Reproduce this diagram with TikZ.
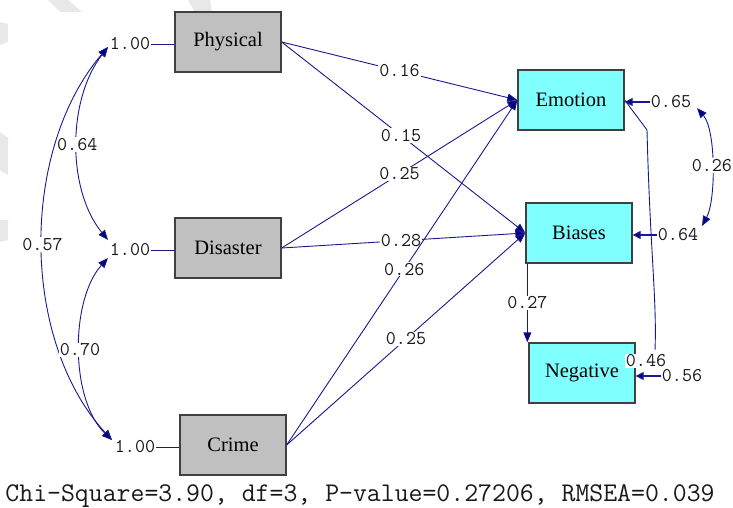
\documentclass[tikz,border=0pt]{standalone}
\usepackage{fontspec}
\setmainfont{Liberation Serif}
\usetikzlibrary{arrows.meta}
\definecolor{lnavy}{RGB}{25,25,140}
\definecolor{tipnavy}{RGB}{0,0,128}
\definecolor{boxgray}{RGB}{192,192,192}
\definecolor{boxcyan}{RGB}{128,255,255}
\definecolor{wm}{RGB}{232,232,232}
\begin{document}
\begin{tikzpicture}[x=1pt,y=-1pt,
  obs/.style={draw=black!75, line width=1.3pt, minimum width=106pt, minimum height=60pt, inner sep=0pt, font=\fontsize{20.5}{20.5}\selectfont},
  exo/.style={obs, fill=boxgray},
  endo/.style={obs, fill=boxcyan},
  num/.style={font=\ttfamily\fontsize{19.5}{19.5}\selectfont, inner sep=1pt, text=black!90},
  lbl/.style={num, fill=white},
  plain/.style={draw=lnavy, line width=0.9pt},
  conn/.style={plain, -{Triangle[length=10pt,width=8pt,fill=tipnavy]}},
  cov/.style={plain, {Triangle[length=10pt,width=8pt,fill=tipnavy]}-{Triangle[length=10pt,width=8pt,fill=tipnavy]}},
  err/.style={plain, line width=1.3pt, -{Triangle[length=8pt,width=8pt,fill=tipnavy]}}
]
\useasboundingbox (0,0) rectangle (733,508);
% faint watermark pieces
\fill[wm] (48,0) -- (68,0) -- (82,12) -- (60,12) -- cycle;
\fill[wm] (188,0) -- (210,0) -- (212,12) -- (195,12) -- cycle;
\fill[wm] (0,22) -- (8,24) -- (8,42) -- (0,45) -- cycle;
\fill[wm] (0,132) -- (8,138) -- (8,175) -- (0,170) -- cycle;
\fill[wm] (0,220) -- (8,220) -- (8,240) -- (0,242) -- cycle;

% observed variables
\node[exo] (phy) at (228,42) {Physical};
\node[exo] (dis) at (228,248) {Disaster};
\node[exo] (cri) at (233,445) {Crime};
\node[endo] (emo) at (571,100) {Emotion};
\node[endo] (bia) at (579,233) {Biases};
\node[endo] (neg) at (582,373) {Negative};

% variances of exogenous variables
\node[num] (vp) at (130,44) {1.00};
\node[num] (vd) at (130,250) {1.00};
\node[num] (vc) at (135,447) {1.00};
\draw[plain] (vp.east) -- (vp.east -| phy.west);
\draw[plain] (vd.east) -- (vd.east -| dis.west);
\draw[plain] (vc.east) -- (vc.east -| cri.west);
\coordinate (pA) at (108,47);
\coordinate (dA) at (108,240);
\coordinate (dB) at (108,258);
\coordinate (cA) at (112,440);

% covariances among exogenous variables
\draw[cov] (pA) .. controls (67,100) and (67,190) .. (dA) node[lbl, pos=0.5] {0.64};
\draw[cov] (pA) .. controls (20,150) and (20,340) .. (cA) node[lbl, pos=0.5] {0.57};
\draw[cov] (dB) .. controls (70,300) and (70,400) .. (cA) node[lbl, pos=0.5] {0.70};

% structural paths
\draw[conn] (phy.east) -- (emo.west) node[lbl, pos=0.5] {0.16};
\draw[conn] (phy.east) -- (bia.west) node[lbl, pos=0.49] {0.15};
\draw[conn] (dis.east) -- (emo.west) node[lbl, pos=0.5] {0.25};
\draw[conn] (dis.east) -- (bia.west) node[lbl, pos=0.49] {0.28};
\draw[conn] (cri.east) -- (emo.west) node[lbl, pos=0.51] {0.26};
\draw[conn] (cri.east) -- (bia.west) node[lbl, pos=0.5] {0.25};
\draw[conn] ([xshift=2pt]bia.south west) -- ([xshift=-1pt]neg.north west) node[lbl, pos=0.5] {0.27};

% error variances
\node[num] (e1) at (671,102) {0.65};
\node[num] (e2) at (678,235) {0.64};
\node[num] (e3) at (682,376) {0.56};
\draw[err] (e1.west) -- (e1.west -| emo.east);
\draw[err] (e2.west) -- (e2.west -| bia.east);
\draw[err] (e3.west) -- (e3.west -| neg.east);

% error covariances
\coordinate (c1) at (697,108);
\coordinate (c2) at (702,226);
\draw[cov] (c1) .. controls (716,130) and (716,200) .. (c2) node[lbl, pos=0.5] {0.26};
\coordinate (k1) at (647,130);
\coordinate (k2) at (655,350);
\draw[plain] (emo.east) -- (k1) .. controls (650,250) and (657,300) .. (k2);
\node[lbl] (c46) at (646,361) {0.46};

% fit statistics
\node[font=\ttfamily\fontsize{27}{27}\selectfont, inner sep=0pt, text=black!90] (fit) at (360,496) {Chi-Square=3.90, df=3, P-value=0.27206, RMSEA=0.039};
\end{tikzpicture}
\end{document}
